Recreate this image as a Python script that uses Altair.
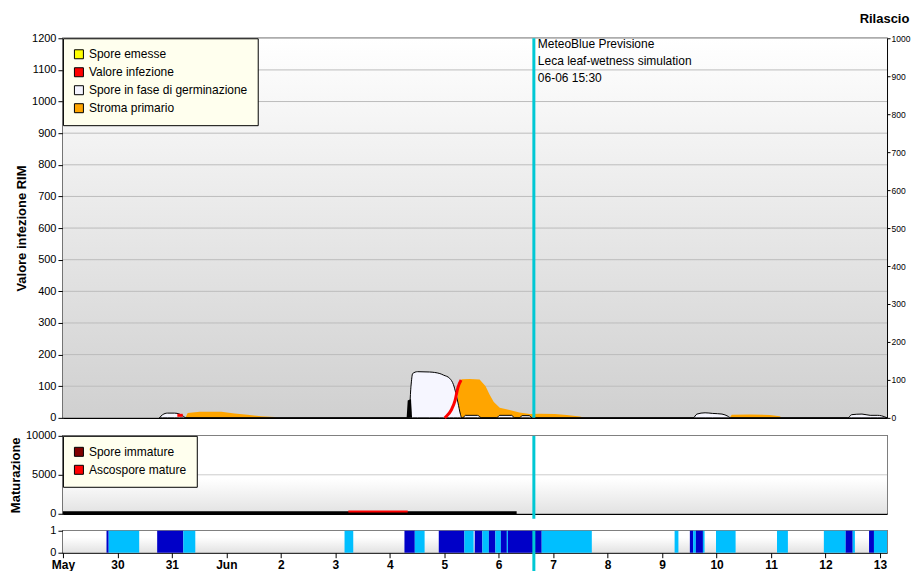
import json
import altair as alt
import pandas as pd

# x positions are days since 29 May 00:00
X_MAX = 15.13
NOW = 8.646
W = 825

day_labels = ["May", "30", "31", "Jun", "2", "3", "4", "5", "6", "7", "8", "9", "10", "11", "12", "13"]

# --- top panel series ---
germ_days = [1.77, 1.83, 1.92, 2.05, 2.14, 2.21, 2.26,
             6.35, 6.39, 6.42, 6.51, 6.73, 6.92, 6.99, 7.10, 7.17, 7.25, 7.30, 7.32,
             7.34, 7.39, 7.61, 7.69,
             7.96, 8.02, 8.24, 8.29,
             8.38, 8.43, 8.56, 8.62,
             11.57, 11.64, 11.79, 11.93, 12.10, 12.21, 12.26,
             14.41, 14.48, 14.67, 14.82, 14.96, 15.09, 15.13]
germ_vals = [0, 10, 15, 15, 12, 5, 0,
             0, 100, 140, 146, 145, 140, 135, 125, 105, 50, 10, 0,
             0, 8, 8, 0,
             0, 8, 8, 0,
             0, 7, 7, 0,
             0, 12, 16, 14, 12, 5, 0,
             0, 10, 12, 8, 8, 3, 0]

stroma_days = [2.25, 2.29, 2.51, 2.91, 3.15, 3.39, 3.64, 3.88, 3.92,
               7.23, 7.26, 7.32, 7.47, 7.65, 7.76, 7.83, 7.91, 8.02, 8.20, 8.38, 8.57, 8.75, 9.03, 9.25, 9.49, 9.58,
               12.24, 12.28, 12.61, 12.98, 13.16, 13.20]
stroma_vals = [0, 15, 19, 19, 14, 10, 5, 3, 0,
               0, 110, 122, 123, 121, 100, 75, 50, 32, 25, 17, 12, 13, 12, 9, 4, 0,
               0, 10, 11, 9, 5, 0]

inf_days = [2.10, 2.20, 7.01, 7.04, 7.13, 7.20, 7.25, 7.31]
inf_vals = [8, 8, 0, 5, 25, 55, 95, 120]
inf_seg = [1, 1, 2, 2, 2, 2, 2, 2]

spike_days = [6.31, 6.33, 6.39, 6.41]
spike_vals = [0, 55, 60, 0]

top_cats = ["Spore emesse", "Valore infezione", "Spore in fase di germinazione", "Stroma primario"]
top_colors = ["#ffff00", "#ff0000", "#f4f4ff", "#ffa500"]

rim_ticks = list(range(0, 1201, 100))
ril_ticks = list(range(0, 1001, 100))

# --- middle panel ---
immature_days = [0.0, 8.33]
immature_vals = [120, 120]
mature_days = [5.24, 6.33]
mature_vals = [280, 280]
mid_cats = ["Spore immature", "Ascospore mature"]
mid_colors = ["#800000", "#ff0000"]
mat_ticks = [0, 5000, 10000]

# --- bottom strip (leaf wetness) ---
wet_start = [0.80, 0.84, 1.73, 2.21, 5.17, 6.27, 6.46, 6.90, 7.37, 7.56, 7.70, 7.82, 7.94, 8.04, 8.15, 8.17,
             8.79, 11.23, 11.51, 11.57, 11.62, 11.75, 11.99, 13.11, 13.97, 14.37, 14.50, 14.80, 14.89]
wet_end = [0.84, 1.40, 2.21, 2.43, 5.33, 6.46, 6.64, 7.37, 7.54, 7.70, 7.82, 7.94, 8.04, 8.15, 8.17, 8.79,
           9.71, 11.30, 11.57, 11.62, 11.75, 11.78, 12.35, 13.31, 14.37, 14.50, 14.54, 14.89, 15.13]
wet_level = ["d", "l", "d", "l", "l", "d", "l", "d", "l", "d", "l", "d", "l", "d", "l", "d",
             "l", "l", "d", "l", "d", "l", "l", "l", "l", "d", "l", "d", "l"]

FONT = "Liberation Sans"
CYAN = "#00c8d4"

HIDDEN_X = alt.Axis(labels=False, ticks=False, title=None, grid=False, domainColor="black",
                    domainWidth=1.5, minExtent=0, maxExtent=0, labelPadding=0)


def xenc(field, axis=HIDDEN_X):
    return alt.X(field, type="quantitative",
                 scale=alt.Scale(domain=[0, X_MAX], nice=False, zero=False),
                 axis=axis)


def grad(c0, c1, mid=None):
    stops = [alt.GradientStop(color=c0, offset=0)]
    if mid is not None:
        stops.append(alt.GradientStop(color=c0, offset=mid))
    stops.append(alt.GradientStop(color=c1, offset=1))
    return alt.LinearGradient(gradient="linear", stops=stops, x1=0, x2=0, y1=0, y2=1)


def legend_style(**kw):
    return alt.Legend(title=None, orient="top-left", offset=0, fillColor="#ffffee",
                      strokeColor="black", padding=10, rowPadding=4, labelFontSize=12,
                      labelFont=FONT, labelColor="black", symbolType="square", symbolSize=81,
                      symbolStrokeColor="black", symbolStrokeWidth=1, symbolOpacity=1,
                      labelLimit=400, cornerRadius=0, zindex=5, **kw)


# ================= TOP PANEL =================
H1 = 380
top_y = dict(scale=alt.Scale(domain=[0, 1200], nice=False),
             axis=alt.Axis(values=rim_ticks, title="Valore infezione RIM", grid=False, format="d",
                           tickSize=5, titlePadding=3))


def ytop(field):
    return alt.Y(field, type="quantitative", **top_y)


one = pd.DataFrame({"a": [0]})

bg1 = alt.Chart(one).mark_rect(color=grad("#ffffff", "#d0d0d0")).encode(
    x=alt.value(0), x2=alt.value(W), y=alt.value(0), y2=alt.value(H1))

grid1 = alt.Chart(pd.DataFrame({"g": rim_ticks[1:]})).mark_rule(color="#bcbcbc", strokeWidth=1).encode(
    y=ytop("g"))

stroma = alt.Chart(pd.DataFrame({"d": stroma_days, "v": stroma_vals})).mark_area(
    color="#ffa500", interpolate="linear").encode(x=xenc("d"), y=ytop("v"))

germ = alt.Chart(pd.DataFrame({"d": germ_days, "v": germ_vals})).mark_area(
    fill="#f6f6ff", stroke="black", strokeWidth=1, interpolate="monotone").encode(
    x=xenc("d"), y=ytop("v"))

spike = alt.Chart(pd.DataFrame({"d": spike_days, "v": spike_vals})).mark_area(color="black").encode(
    x=xenc("d"), y=ytop("v"))

inf = alt.Chart(pd.DataFrame({"d": inf_days, "v": inf_vals, "s": inf_seg})).mark_line(
    color="#ff0000", strokeWidth=3, interpolate="monotone").encode(
    x=xenc("d"), y=ytop("v"), detail="s:N")

leg1 = alt.Chart(pd.DataFrame({"cat": top_cats, "d": [1] * 4, "v": [600] * 4})).mark_square(
    opacity=0, filled=True, stroke="black", strokeWidth=1).encode(
    x=xenc("d"), y=ytop("v"),
    color=alt.Color("cat:N", scale=alt.Scale(domain=top_cats, range=top_colors),
                    sort=top_cats, legend=legend_style()))

now1 = alt.Chart(one).mark_rule(color=CYAN, strokeWidth=3).encode(x=alt.datum(NOW))

note = alt.Chart(one).mark_text(
    align="left", baseline="top", dx=4, fontSize=12, font=FONT, lineHeight=17, color="black",
    text=["MeteoBlue Previsione", "Leca leaf-wetness simulation", "06-06 15:30"]).encode(
    x=alt.datum(NOW), y=alt.value(1))

inner = alt.layer(bg1, grid1, stroma, germ, spike, inf, leg1, now1, note)

ril = alt.Chart(pd.DataFrame({"r": [0, 1000], "d": [1, 1]})).mark_point(opacity=0, size=1).encode(
    x=xenc("d"),
    y=alt.Y("r:Q", scale=alt.Scale(domain=[0, 1000], nice=False),
            axis=alt.Axis(orient="right", values=ril_ticks, title="Rilascio", titleAngle=0, format="d",
                          titleX=-3, titleY=-20, titleAlign="center", titleBaseline="middle",
                          grid=False, tickSize=3, labelPadding=1, labelFontSize=8.5)))

top = alt.layer(inner, ril).resolve_scale(y="independent").properties(width=W, height=H1)

# ================= MIDDLE PANEL =================
H2 = 78
mid_y = dict(scale=alt.Scale(domain=[0, 10000], nice=False),
             axis=alt.Axis(values=mat_ticks, title="Maturazione", grid=False, tickSize=5, titlePadding=3,
                           format="d"))


def ymid(field):
    return alt.Y(field, type="quantitative", **mid_y)


bg2 = alt.Chart(one).mark_rect(color=grad("#ffffff", "#e2e2e2", 0.55)).encode(
    x=alt.value(0), x2=alt.value(W), y=alt.value(0), y2=alt.value(H2))
grid2 = alt.Chart(pd.DataFrame({"g": [5000]})).mark_rule(color="#cccccc").encode(y=ymid("g"))
immature = alt.Chart(pd.DataFrame({"d": immature_days, "v": immature_vals})).mark_line(
    color="black", strokeWidth=3).encode(x=xenc("d"), y=ymid("v"))
mature = alt.Chart(pd.DataFrame({"d": mature_days, "v": mature_vals})).mark_line(
    color="#ff0000", strokeWidth=2).encode(x=xenc("d"), y=ymid("v"))
leg2 = alt.Chart(pd.DataFrame({"cat": mid_cats, "d": [1] * 2, "v": [5000] * 2})).mark_square(
    opacity=0, filled=True, stroke="black", strokeWidth=1).encode(
    x=xenc("d"), y=ymid("v"),
    color=alt.Color("cat:N", scale=alt.Scale(domain=mid_cats, range=mid_colors),
                    sort=mid_cats, legend=legend_style()))
now2 = alt.Chart(one).mark_rule(color=CYAN, strokeWidth=3).encode(
    x=alt.datum(NOW), y=alt.value(0), y2=alt.value(H2 + 5))

mid = alt.layer(bg2, grid2, immature, mature, leg2, now2).properties(width=W, height=H2)

# ================= BOTTOM STRIP =================
H3 = 22
label_expr = f"datum.value % 1 === 0 ? {json.dumps(day_labels)}[datum.value] : ''"
bot_x_axis = alt.Axis(values=[i * 0.5 for i in range(31)], labelExpr=label_expr, labelFontWeight="bold",
                      labelFontSize=12, labelOverlap=False, labelFlush=False, title=None, grid=False,
                      tickSize=5, labelPadding=2)
bot_y = dict(scale=alt.Scale(domain=[0, 1], nice=False),
             axis=alt.Axis(values=[0, 1], title=None, grid=False, tickSize=5, format="d"))

bg3 = alt.Chart(one).mark_rect(color=grad("#ffffff", "#e2e2e2", 0.3)).encode(
    x=alt.value(0), x2=alt.value(W), y=alt.value(0), y2=alt.value(H3))
wet = alt.Chart(pd.DataFrame({"s": wet_start, "e": wet_end, "lvl": wet_level,
                              "y0": [0] * len(wet_start), "y1": [1] * len(wet_start)})).mark_rect().encode(
    x=xenc("s", bot_x_axis), x2="e:Q",
    y=alt.Y("y0:Q", **bot_y), y2="y1:Q",
    color=alt.Color("lvl:N", scale=alt.Scale(domain=["d", "l"], range=["#0000c8", "#00bfff"]), legend=None))
now3 = alt.Chart(one).mark_rule(color=CYAN, strokeWidth=3).encode(
    x=alt.datum(NOW), y=alt.value(0), y2=alt.value(H3 + 20))

bot = alt.layer(bg3, wet, now3).properties(width=W, height=H3)

lower = alt.vconcat(mid, bot, spacing=2).resolve_scale(color="independent").resolve_legend(color="independent")

chart = alt.vconcat(top, lower, spacing=4).resolve_scale(color="independent").resolve_legend(
    color="independent").properties(padding={"left": 0, "top": 3, "right": 0, "bottom": 0}).configure_axis(
    labelFont=FONT, titleFont=FONT, labelColor="black", tickColor="black", domainColor="black",
    labelFontSize=11, titleFontSize=13, titleFontWeight="bold", titleColor="black"
).configure_view(stroke="#555555", strokeWidth=1.5)

chart.save("out.html", embed_options={"renderer": "svg", "actions": False})
